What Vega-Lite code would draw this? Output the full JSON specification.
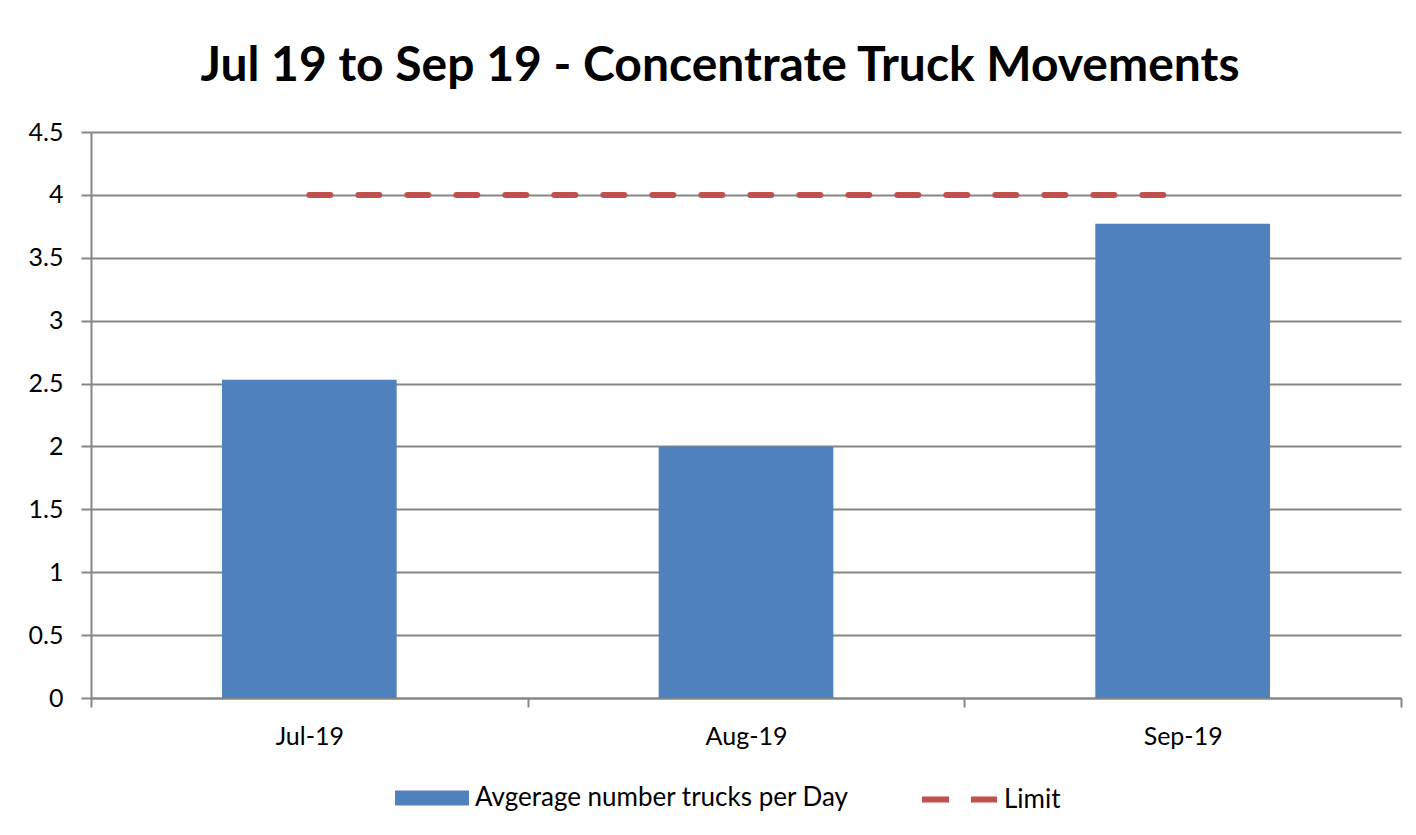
{
  "$schema": "https://vega.github.io/schema/vega-lite/v6.json",
  "width": 1310,
  "height": 566,
  "autosize": {"type": "none"},
  "padding": {"left": 91, "top": 132, "right": 15, "bottom": 137},
  "background": "white",
  "config": {"view": {"stroke": null}, "font": "Lato"},
  "title": {
    "text": "Jul 19 to Sep 19 - Concentrate Truck Movements",
    "fontSize": 48,
    "font": "Lato",
    "fontWeight": "bold",
    "color": "black",
    "anchor": "middle",
    "frame": "group",
    "offset": 29,
    "dx": -26
  },
  "data": {
    "values": [
      {"month": "Jul-19", "avg": 2.53, "limit": 4},
      {"month": "Aug-19", "avg": 2.0, "limit": 4},
      {"month": "Sep-19", "avg": 3.77, "limit": 4}
    ]
  },
  "encoding": {
    "x": {
      "field": "month",
      "type": "ordinal",
      "sort": null,
      "scale": {"paddingInner": 0, "paddingOuter": 0},
      "axis": {
        "title": null,
        "labelAngle": 0,
        "labelFontSize": 25,
        "labelColor": "black",
        "labelPadding": 17,
        "domainColor": "#868686",
        "domainWidth": 2,
        "tickColor": "#868686",
        "tickWidth": 2,
        "tickSize": 9,
        "tickBand": "extent",
        "grid": false
      }
    }
  },
  "layer": [
    {
      "mark": {"type": "bar", "width": {"band": 0.4}},
      "encoding": {
        "y": {
          "field": "avg",
          "type": "quantitative",
          "scale": {"domain": [0, 4.5]},
          "axis": {
            "title": null,
            "values": [0, 0.5, 1, 1.5, 2, 2.5, 3, 3.5, 4, 4.5],
            "format": "~g",
            "labelFontSize": 25,
            "labelColor": "black",
            "labelPadding": 18,
            "domainColor": "#868686",
            "domainWidth": 2,
            "tickColor": "#868686",
            "tickWidth": 2,
            "tickSize": 10,
            "gridColor": "#868686",
            "gridWidth": 2
          }
        },
        "fill": {
          "datum": "Avgerage number trucks per Day",
          "type": "nominal",
          "scale": {"range": ["#4F81BD"]},
          "legend": {
            "title": null,
            "orient": "none",
            "legendX": 304,
            "legendY": 629,
            "symbolType": "M-1,-0.2H1V0.2H-1Z",
            "symbolSize": 5476,
            "symbolStrokeWidth": 0,
            "labelFontSize": 26,
            "labelLimit": 1000,
            "labelColor": "black",
            "labelOffset": 6
          }
        }
      }
    },
    {
      "mark": {"type": "line", "strokeWidth": 6, "strokeDash": [21, 28], "strokeCap": "round"},
      "encoding": {
        "y": {"field": "limit", "type": "quantitative"},
        "stroke": {
          "datum": "Limit",
          "type": "nominal",
          "scale": {"range": ["#C0504D"]},
          "legend": {
            "title": null,
            "orient": "none",
            "legendX": 828,
            "legendY": 627,
            "symbolType": "stroke",
            "symbolSize": 5625,
            "symbolStrokeWidth": 6,
            "symbolDash": [27, 22],
            "labelFontSize": 26,
            "labelLimit": 1000,
            "labelColor": "black",
            "labelOffset": 4
          }
        }
      }
    }
  ]
}
